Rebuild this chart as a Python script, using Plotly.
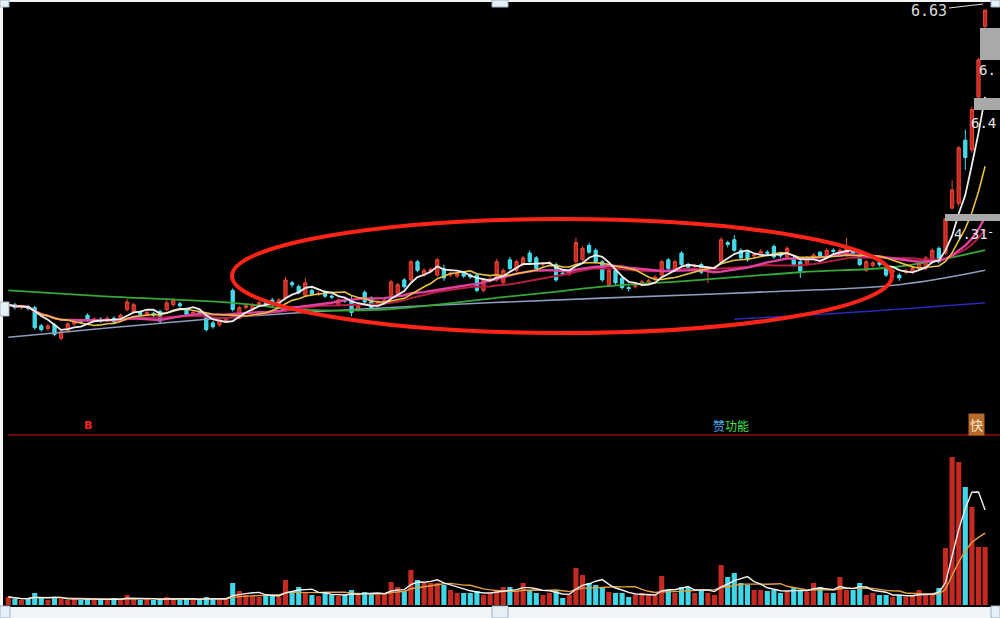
import plotly.graph_objects as go
import pandas as pd

# ---------------- data ----------------
opens = [3.54, 3.55, 3.52, 3.53, 3.52, 3.33, 3.30, 3.34, 3.20, 3.28,
         3.35, 3.38, 3.44, 3.39, 3.40, 3.38, 3.41, 3.38, 3.50, 3.48,
         3.47, 3.45, 3.46, 3.48, 3.50, 3.55, 3.56, 3.50, 3.46, 3.47,
         3.44, 3.36, 3.34, 3.38, 3.70, 3.41, 3.52, 3.50, 3.55, 3.57,
         3.60, 3.56, 3.62, 3.78, 3.74, 3.65, 3.70, 3.66, 3.68, 3.64,
         3.55, 3.60, 3.60, 3.50, 3.68, 3.62, 3.54, 3.58, 3.65, 3.66,
         3.81, 3.81, 4.00, 3.86, 3.90, 3.86, 3.93, 3.86, 3.85, 3.88,
         3.86, 3.86, 3.70, 3.80, 3.81, 3.78, 4.02, 3.91, 3.97, 4.09,
         4.04, 3.97, 3.98, 3.97, 3.88, 3.87, 4.00, 4.02, 4.17, 4.12,
         4.00, 3.76, 3.91, 3.83, 3.73, 3.74, 3.77, 3.79, 3.82, 3.86,
         4.02, 3.91, 4.09, 3.97, 3.95, 3.97, 3.92, 3.93, 4.00, 4.20,
         4.23, 4.12, 4.10, 4.06, 4.07, 4.10, 4.16, 4.09, 4.05, 4.04,
         4.00, 3.97, 4.04, 4.10, 4.07, 4.12, 4.09, 4.07, 4.11, 4.05,
         3.91, 3.96, 3.99, 3.93, 3.89, 3.86, 3.89, 3.89, 3.93, 3.93,
         4.00, 4.14, 4.09, 4.56, 4.61, 5.27, 5.17, 5.72, 6.46]
highs = [3.57, 3.57, 3.55, 3.55, 3.54, 3.35, 3.35, 3.36, 3.28, 3.37,
         3.40, 3.40, 3.46, 3.42, 3.42, 3.43, 3.43, 3.46, 3.61, 3.57,
         3.49, 3.49, 3.48, 3.50, 3.60, 3.62, 3.58, 3.52, 3.49, 3.49,
         3.46, 3.38, 3.40, 3.42, 3.72, 3.54, 3.56, 3.57, 3.59, 3.59,
         3.62, 3.62, 3.84, 3.80, 3.76, 3.83, 3.72, 3.69, 3.70, 3.66,
         3.62, 3.62, 3.64, 3.56, 3.70, 3.64, 3.60, 3.62, 3.81, 3.78,
         3.83, 4.02, 4.02, 3.93, 3.94, 4.04, 3.97, 3.90, 3.90, 3.90,
         3.88, 3.88, 3.82, 3.84, 4.03, 3.93, 4.05, 4.02, 4.06, 4.12,
         4.06, 4.00, 4.01, 3.99, 3.91, 3.92, 4.25, 4.16, 4.20, 4.14,
         4.02, 3.93, 3.93, 3.85, 3.75, 3.78, 3.81, 3.82, 3.86, 4.02,
         4.04, 4.02, 4.11, 3.99, 3.98, 3.99, 3.95, 3.96, 4.26, 4.22,
         4.28, 4.14, 4.12, 4.09, 4.13, 4.12, 4.18, 4.10, 4.16, 4.06,
         4.02, 4.06, 4.09, 4.11, 4.14, 4.14, 4.14, 4.25, 4.13, 4.07,
         4.02, 4.01, 4.01, 3.95, 3.93, 3.88, 3.93, 3.95, 4.00, 4.06,
         4.14, 4.16, 4.47, 4.85, 5.21, 5.38, 5.62, 6.13, 6.63]
lows = [3.52, 3.50, 3.50, 3.49, 3.29, 3.27, 3.28, 3.22, 3.18, 3.26,
        3.33, 3.35, 3.37, 3.37, 3.36, 3.37, 3.35, 3.37, 3.48, 3.46,
        3.43, 3.43, 3.42, 3.36, 3.48, 3.53, 3.52, 3.43, 3.44, 3.43,
        3.27, 3.30, 3.32, 3.36, 3.48, 3.40, 3.50, 3.48, 3.53, 3.54,
        3.53, 3.54, 3.60, 3.73, 3.66, 3.63, 3.64, 3.64, 3.62, 3.61,
        3.53, 3.57, 3.43, 3.48, 3.56, 3.50, 3.52, 3.56, 3.63, 3.64,
        3.72, 3.79, 3.89, 3.84, 3.88, 3.84, 3.80, 3.84, 3.83, 3.83,
        3.82, 3.68, 3.68, 3.78, 3.79, 3.76, 3.91, 3.89, 3.95, 3.98,
        3.91, 3.95, 3.96, 3.79, 3.85, 3.85, 3.98, 4.00, 4.08, 3.98,
        3.79, 3.74, 3.76, 3.71, 3.69, 3.72, 3.75, 3.77, 3.80, 3.84,
        3.91, 3.89, 3.95, 3.92, 3.93, 3.87, 3.78, 3.91, 3.98, 4.15,
        4.10, 4.02, 4.00, 4.04, 4.05, 4.07, 4.03, 4.04, 4.03, 3.95,
        3.83, 3.95, 4.02, 4.04, 4.05, 4.09, 4.07, 4.05, 4.07, 3.95,
        3.89, 3.94, 3.95, 3.84, 3.87, 3.80, 3.87, 3.87, 3.91, 3.91,
        3.98, 3.98, 4.07, 4.55, 4.58, 4.96, 5.14, 5.60, 6.40]
closes = [3.55, 3.52, 3.53, 3.51, 3.31, 3.29, 3.33, 3.24, 3.27, 3.35,
          3.38, 3.37, 3.39, 3.40, 3.38, 3.41, 3.37, 3.44, 3.58, 3.55,
          3.45, 3.47, 3.44, 3.38, 3.57, 3.60, 3.54, 3.45, 3.47, 3.45,
          3.29, 3.32, 3.39, 3.40, 3.50, 3.52, 3.54, 3.55, 3.57, 3.56,
          3.55, 3.60, 3.81, 3.76, 3.68, 3.78, 3.66, 3.67, 3.64, 3.63,
          3.60, 3.59, 3.47, 3.54, 3.58, 3.52, 3.58, 3.60, 3.79, 3.76,
          3.74, 4.00, 3.91, 3.91, 3.92, 4.02, 3.83, 3.88, 3.88, 3.85,
          3.84, 3.70, 3.81, 3.82, 4.00, 3.91, 3.93, 4.00, 4.04, 4.00,
          3.93, 3.98, 3.99, 3.81, 3.87, 3.90, 4.20, 4.14, 4.10, 4.00,
          3.81, 3.91, 3.78, 3.73, 3.72, 3.76, 3.79, 3.80, 3.84, 4.00,
          3.93, 4.00, 3.97, 3.94, 3.96, 3.89, 3.93, 3.94, 4.23, 4.18,
          4.12, 4.04, 4.02, 4.07, 4.11, 4.09, 4.05, 4.06, 4.14, 3.97,
          3.90, 4.04, 4.07, 4.06, 4.12, 4.11, 4.12, 4.15, 4.09, 3.97,
          4.00, 3.99, 3.97, 3.86, 3.91, 3.83, 3.91, 3.93, 3.98, 4.04,
          4.12, 4.00, 4.45, 4.75, 5.19, 5.09, 5.59, 6.11, 6.63]
volumes = [8, 6, 5, 7, 12, 7, 5, 8, 6, 5,
           6, 5, 7, 5, 6, 5, 7, 6, 10, 6,
           5, 6, 5, 6, 8, 6, 5, 7, 5, 6,
           8, 6, 5, 6, 22, 14, 10, 9, 8, 10,
           10, 8, 25, 14, 18, 12, 10, 9, 12, 10,
           9, 10, 15, 10, 13, 12, 10, 12, 23, 18,
           14, 35, 25, 22, 22, 22, 20, 15, 12, 12,
           12, 14, 10, 12, 15, 18, 18, 14, 22, 15,
           12, 10, 12, 14, 7, 10, 37, 30, 22, 20,
           18, 13, 12, 12, 8, 10, 12, 10, 10, 29,
           15, 12, 18, 18, 12, 15, 12, 10, 40, 28,
           32, 22, 20, 15, 15, 14, 15, 12, 14, 17,
           15, 13, 22, 18, 12, 12, 28, 15, 15, 22,
           10, 12, 10, 10, 8, 10, 8, 10, 15, 10,
           12, 17, 57, 148, 143, 118, 98, 58, 58]

# long moving averages at a few candles
ma60_idx = [0, 14, 34, 44, 57, 75, 82, 90, 105, 120, 135, 148]
ma60_val = [3.70, 3.64, 3.57, 3.50, 3.50, 3.63, 3.68, 3.74, 3.81, 3.89, 3.95, 4.12]
ma120_idx = [0, 34, 60, 90, 113, 135, 148]
ma120_val = [3.21, 3.42, 3.53, 3.62, 3.68, 3.76, 3.91]
ma250_idx = [110, 130, 148]
ma250_val = [3.40, 3.48, 3.57]

price_tags = ["6.63", "6.", "6.4", "4.31", "-"]
signal_texts = ["B", "赞", "功能", "快"]

# ---------------- figure ----------------
W, H = 1000, 618
def px(x):
    return x / W
def py(y):
    return 1 - y / H

n = len(closes)
idx = list(range(n))
cs = pd.Series(closes)
ma5 = cs.rolling(5, min_periods=1).mean()
ma10 = cs.rolling(10, min_periods=1).mean()
ma20 = cs.rolling(20, min_periods=1).mean()
ma30 = cs.rolling(30, min_periods=1).mean()
vs = pd.Series(volumes)
vma5 = vs.rolling(5, min_periods=1).mean()
vma10 = vs.rolling(10, min_periods=1).mean()

RED = "#c42a22"
CYAN = "#3fd6e8"
vol_colors = [RED if c >= o else CYAN for o, c in zip(opens, closes)]

fig = go.Figure()

fig.add_trace(go.Candlestick(
    x=idx, open=opens, high=highs, low=lows, close=closes,
    increasing=dict(line=dict(color="#e8453a", width=1), fillcolor="#c8281e"),
    decreasing=dict(line=dict(color="#4ae2f2", width=1), fillcolor="#3fd6e8"),
    whiskerwidth=0, xaxis="x", yaxis="y", hoverinfo="skip"))

def line(x, y, color, width, shape="linear", xa="x", ya="y"):
    fig.add_trace(go.Scatter(x=x, y=y, mode="lines", line=dict(color=color, width=width, shape=shape),
                             xaxis=xa, yaxis=ya, hoverinfo="skip"))

line(ma250_idx, ma250_val, "#2a2ab8", 1.5, "spline")
line(ma120_idx, ma120_val, "#8c9cbc", 1.6, "spline")
line(ma60_idx, ma60_val, "#35a835", 1.8, "spline")
line(idx, ma30, "#b41c40", 2)
line(idx, ma20, "#e0409e", 2.4)
line(idx, ma10, "#e6c040", 1.6)
line(idx, ma5, "#f0ecec", 1.8)

fig.add_trace(go.Bar(x=idx, y=volumes, marker=dict(color=vol_colors, line=dict(width=0)),
                     xaxis="x2", yaxis="y2", hoverinfo="skip"))
line(idx, vma10, "#e6a040", 1.4, xa="x2", ya="y2")
line(idx, vma5, "#f0f0f0", 1.4, xa="x2", ya="y2")

xdom = [px(5), px(988.4)]
fig.update_layout(
    width=W, height=H, margin=dict(l=0, r=0, t=0, b=0),
    paper_bgcolor="#000000", plot_bgcolor="#000000",
    showlegend=False, bargap=0.22,
    xaxis=dict(domain=xdom, range=[-0.5, n - 0.5], visible=False, anchor="y",
               rangeslider=dict(visible=False)),
    xaxis2=dict(domain=xdom, range=[-0.5, n - 0.5], visible=False, anchor="y2"),
    yaxis=dict(domain=[py(435), py(5)], range=[2.189, 6.683], visible=False, anchor="x"),
    yaxis2=dict(domain=[py(605), py(440)], range=[0, 165], visible=False, anchor="x2"),
)

shapes = []
# big red ellipse
shapes.append(dict(type="circle", xref="paper", yref="paper",
                   x0=px(232), x1=px(892), y0=py(333), y1=py(219),
                   line=dict(color="#ff2418", width=4)))
# separator line between panels
shapes.append(dict(type="line", xref="paper", yref="paper", x0=px(8), x1=px(1000),
                   y0=py(435), y1=py(435), line=dict(color="#9a0a0a", width=1.5)))
# grey price tag boxes on the right
for (x0, y0, x1, y1) in [(980, 28, 1000, 60), (974, 98, 1000, 110), (945, 214, 1000, 221)]:
    shapes.append(dict(type="rect", xref="paper", yref="paper", x0=px(x0), x1=px(x1),
                       y0=py(y1), y1=py(y0), fillcolor="#a9a9a9", line=dict(width=0)))
# pointer from the 6.63 tag
shapes.append(dict(type="line", xref="paper", yref="paper", x0=px(949), x1=px(983),
                   y0=py(8), y1=py(4), line=dict(color="#d8d8d8", width=1.2)))
# white frame (screenshot border)
for (x0, y0, x1, y1) in [(0, 0, 1000, 2), (0, 0, 3, 618), (0, 607, 1000, 618)]:
    shapes.append(dict(type="rect", xref="paper", yref="paper", x0=px(x0), x1=px(x1),
                       y0=py(y1), y1=py(y0), fillcolor="#f2f5f8", line=dict(width=0)))
# selection handles
for (x0, y0, x1, y1) in [(0, 0, 9, 7), (492, 0, 508, 7), (991, 0, 1000, 7), (0, 302, 9, 316),
                         (0, 606, 10, 618), (492, 606, 508, 618), (991, 606, 1000, 618)]:
    shapes.append(dict(type="rect", xref="paper", yref="paper", x0=px(x0), x1=px(x1),
                       y0=py(y1), y1=py(y0), fillcolor="#e6f0f6",
                       line=dict(color="#9fb2c2", width=1)))
fig.update_layout(shapes=shapes)

ann = []
mono = "DejaVu Sans Mono"
ann.append(dict(text=price_tags[0], x=px(909), y=py(11), xanchor="left", yanchor="middle",
                font=dict(family=mono, size=15, color="#dcdcdc")))
ann.append(dict(text=price_tags[1], x=px(998), y=py(70), xanchor="right", yanchor="middle",
                font=dict(family=mono, size=14, color="#e6e6e6")))
ann.append(dict(text=price_tags[2], x=px(998), y=py(123), xanchor="right", yanchor="middle",
                font=dict(family=mono, size=14, color="#e6e6e6")))
ann.append(dict(text=price_tags[3], x=px(952), y=py(234), xanchor="left", yanchor="middle",
                font=dict(family=mono, size=14, color="#e6e6e6")))
ann.append(dict(text=price_tags[4], x=px(996), y=py(232), xanchor="right", yanchor="middle",
                font=dict(family=mono, size=12, color="#e6e6e6")))
ann.append(dict(text="<b>" + signal_texts[0] + "</b>", x=px(88), y=py(425), xanchor="center",
                yanchor="middle", font=dict(family="DejaVu Sans", size=11, color="#ff2020")))
ann.append(dict(text="<span style='color:#4aa8e8'>" + signal_texts[1] + "</span>"
                     "<span style='color:#3ee04a'>" + signal_texts[2] + "</span>",
                x=px(731), y=py(425), xanchor="center", yanchor="middle",
                font=dict(family="Noto Sans CJK SC", size=12)))
ann.append(dict(text=signal_texts[3], x=px(976), y=py(424), xanchor="center", yanchor="middle",
                bgcolor="#b86a2c", borderpad=1,
                font=dict(family="Noto Sans CJK SC", size=13, color="#ffe6c4")))
for a in ann:
    a.update(xref="paper", yref="paper", showarrow=False)
fig.update_layout(annotations=ann)

fig.write_html("out.html", config={"displayModeBar": False},
               post_script="document.body.style.margin='0';")
